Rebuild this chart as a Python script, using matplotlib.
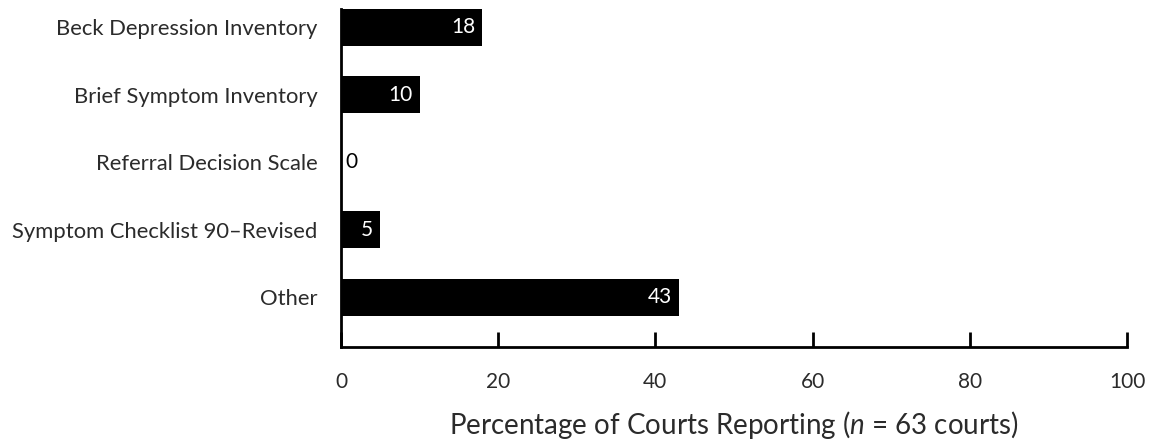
import numpy as np
import matplotlib.pyplot as plt

plt.rcParams['font.family'] = ['Lato', 'DejaVu Sans']
plt.rcParams['mathtext.fontset'] = 'custom'
plt.rcParams['mathtext.it'] = 'Lato:italic'
plt.rcParams['mathtext.rm'] = 'Lato'

# data
categories = ['Beck Depression Inventory', 'Brief Symptom Inventory',
              'Referral Decision Scale', 'Symptom Checklist 90\u2013Revised', 'Other']
percent = [18, 10, 0, 5, 43]
xticks = [0, 20, 40, 60, 80, 100]

text_col = '#2b2b2b'

fig = plt.figure(figsize=(11.55, 4.45), dpi=100)
ax = fig.add_axes([0.2952, 0.2202, 0.6806, 0.7596])

y = np.arange(len(categories))
ax.barh(y, percent, height=0.55, color='black')

for yi, v in zip(y, percent):
    if v > 0:
        ax.text(v - 0.9, yi, str(v), color='white', ha='right', va='center', fontsize=15)
    else:
        ax.text(0.6, yi, str(v), color='black', ha='left', va='center', fontsize=15)

ax.set_xlim(0, 100)
ax.set_ylim(4.74, -0.274)
ax.set_yticks(y)
ax.set_yticklabels(categories, fontsize=15.8, color=text_col)
ax.set_xticks(xticks)
ax.set_xticklabels([str(t) for t in xticks], fontsize=15, color=text_col)
ax.tick_params(axis='x', direction='in', length=11, width=2, pad=18)
ax.tick_params(axis='y', length=0, pad=17)

for s in ['top', 'right']:
    ax.spines[s].set_visible(False)
for s in ['left', 'bottom']:
    ax.spines[s].set_linewidth(2)

ax.set_xlabel('Percentage of Courts Reporting ($n$ = 63 courts)', fontsize=20,
              color=text_col, labelpad=12)

fig.savefig('out.png', dpi=100)
